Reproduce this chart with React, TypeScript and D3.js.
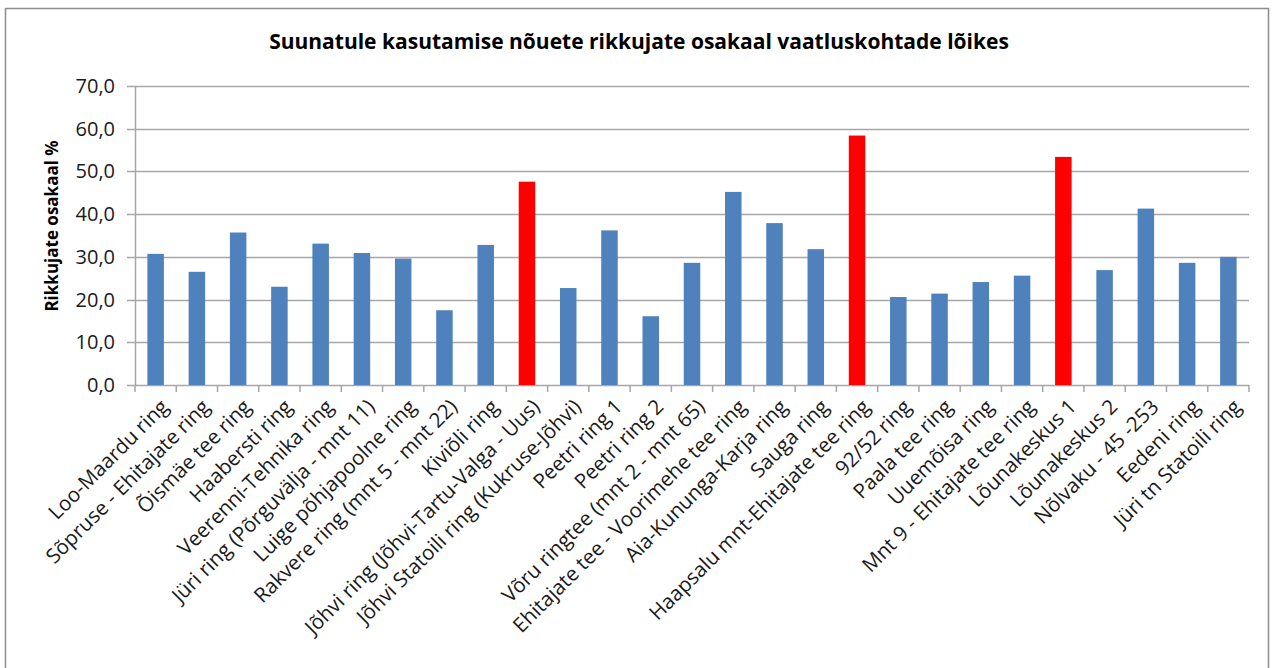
import React, { useEffect, useRef } from "react";
import * as d3 from "d3";

const categories = [
  "Loo-Maardu ring",
  "Sõpruse - Ehitajate ring",
  "Õismäe tee ring",
  "Haabersti ring",
  "Veerenni-Tehnika ring",
  "Jüri ring (Põrguvälja - mnt 11)",
  "Luige põhjapoolne ring",
  "Rakvere ring (mnt 5 - mnt 22)",
  "Kiviõli ring",
  "Jõhvi ring (Jõhvi-Tartu-Valga - Uus)",
  "Jõhvi Statoili ring (Kukruse-Jõhvi)",
  "Peetri ring 1",
  "Peetri ring 2",
  "Võru ringtee (mnt 2 - mnt 65)",
  "Ehitajate tee - Voorimehe tee ring",
  "Aia-Kununga-Karja ring",
  "Sauga ring",
  "Haapsalu mnt-Ehitajate tee ring",
  "92/52 ring",
  "Paala tee ring",
  "Uuemõisa ring",
  "Mnt 9 - Ehitajate tee ring",
  "Lõunakeskus 1",
  "Lõunakeskus 2",
  "Nõlvaku - 45 -253",
  "Eedeni ring",
  "Jüri tn Statoili ring",
];

const values = [
  30.7, 26.5, 35.7, 23.0, 33.1, 30.9, 29.6, 17.5, 32.8, 47.6, 22.7, 36.2, 16.1,
  28.6, 45.2, 37.9, 31.8, 58.4, 20.6, 21.4, 24.1, 25.6, 53.4, 26.9, 41.3, 28.6,
  30.0,
];

// highlighted bars (red)
const highlighted = [
  "Jõhvi ring (Jõhvi-Tartu-Valga - Uus)",
  "Haapsalu mnt-Ehitajate tee ring",
  "Lõunakeskus 1",
];

const yTicks = [0, 10, 20, 30, 40, 50, 60, 70];

export default function App() {
  const svgRef = useRef<SVGSVGElement>(null);

  useEffect(() => {
    const svg = d3.select(svgRef.current);
    svg.selectAll("*").remove();
    const font = "'Open Sans', 'Noto Sans', sans-serif";

    // outer chart frame
    svg
      .append("rect")
      .attr("x", 5.5)
      .attr("y", 8.5)
      .attr("width", 1263)
      .attr("height", 700)
      .attr("fill", "white")
      .attr("stroke", "#8c8c8c")
      .attr("stroke-width", 1.5);

    const left = 135;
    const right = 1249;
    const top = 86;
    const bottom = 385;

    const x = d3.scaleBand().domain(categories).range([left, right]).paddingInner(0.6).paddingOuter(0.3);
    const step = x.step();
    const y = d3.scaleLinear().domain([0, 70]).range([bottom, top]);

    // gridlines
    svg
      .append("g")
      .selectAll("line")
      .data(yTicks)
      .enter()
      .append("line")
      .attr("x1", left - 8)
      .attr("x2", right)
      .attr("y1", (d) => Math.round(y(d)) + 0.5)
      .attr("y2", (d) => Math.round(y(d)) + 0.5)
      .attr("stroke", "#a6a6a6")
      .attr("stroke-width", 1.5);

    // y axis line
    svg
      .append("line")
      .attr("x1", left + 0.5)
      .attr("x2", left + 0.5)
      .attr("y1", top)
      .attr("y2", bottom)
      .attr("stroke", "#a6a6a6")
      .attr("stroke-width", 1.5);

    // y tick labels
    svg
      .append("g")
      .selectAll("text")
      .data(yTicks)
      .enter()
      .append("text")
      .attr("x", left - 20)
      .attr("y", (d) => y(d))
      .attr("dy", "0.35em")
      .attr("text-anchor", "end")
      .style("font-family", font)
      .style("font-size", "20px")
      .attr("fill", "#1a1a1a")
      .text((d) => d.toFixed(1).replace(".", ","));

    // bars
    svg
      .append("g")
      .selectAll("rect")
      .data(values)
      .enter()
      .append("rect")
      .attr("x", (d, i) => x(categories[i])!)
      .attr("y", (d) => y(d))
      .attr("width", x.bandwidth())
      .attr("height", (d) => bottom - y(d))
      .attr("fill", (d, i) => (highlighted.includes(categories[i]) ? "#ff0000" : "#4f81bd"));

    // x tick marks between categories
    const tickXs = d3.range(categories.length + 1).map((i) => x(categories[0])! - (step - x.bandwidth()) / 2 + i * step);
    svg
      .append("g")
      .selectAll("line")
      .data(tickXs)
      .enter()
      .append("line")
      .attr("x1", (d) => d)
      .attr("x2", (d) => d)
      .attr("y1", bottom)
      .attr("y2", bottom + 7)
      .attr("stroke", "#a6a6a6")
      .attr("stroke-width", 1.5);

    // x labels rotated
    svg
      .append("g")
      .selectAll("text")
      .data(categories)
      .enter()
      .append("text")
      .attr("transform", (d) => `translate(${x(d)! + x.bandwidth() / 2 + 9},${bottom + 18}) rotate(-45)`)
      .attr("text-anchor", "end")
      .attr("dy", "0.35em")
      .style("font-family", font)
      .style("font-size", "20.5px")
      .attr("fill", "#1a1a1a")
      .text((d) => d);

    // y axis title
    svg
      .append("text")
      .attr("transform", `translate(58,226) rotate(-90)`)
      .attr("text-anchor", "middle")
      .style("font-family", font)
      .style("font-size", "17px")
      .style("font-weight", "bold")
      .text("Rikkujate osakaal %");

    // title
    svg
      .append("text")
      .attr("x", 639)
      .attr("y", 49)
      .attr("text-anchor", "middle")
      .style("font-family", font)
      .style("font-size", "21px")
      .style("font-weight", "bold")
      .text("Suunatule kasutamise nõuete rikkujate osakaal vaatluskohtade lõikes");
  }, []);

  return (
    <svg
      ref={svgRef}
      width={1278}
      height={668}
      style={{ position: "absolute", left: 0, top: 0, background: "white" }}
    ></svg>
  );
}
